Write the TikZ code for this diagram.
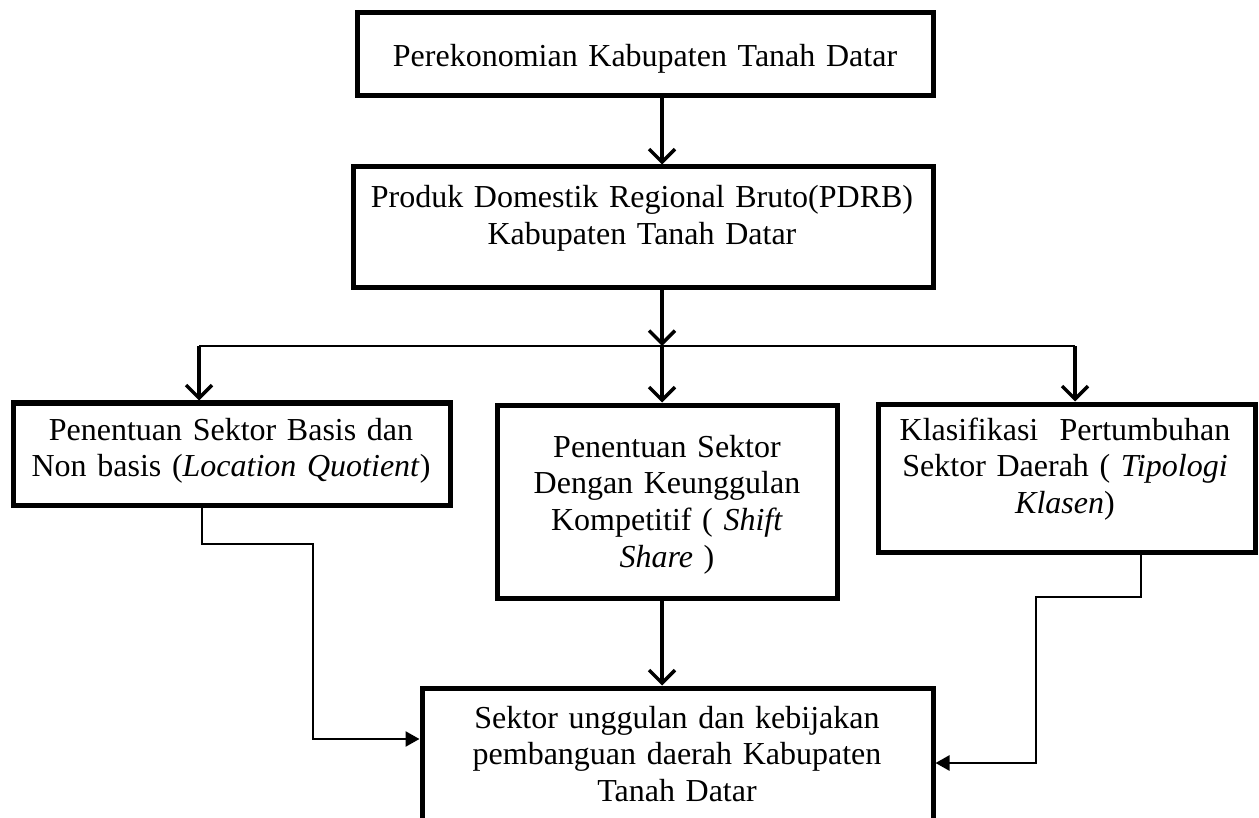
\documentclass[tikz,border=0pt]{standalone}
\usepackage{fontspec}
\setmainfont{Liberation Serif}
\usetikzlibrary{arrows.meta}
\begin{document}
\begin{tikzpicture}[x=1pt,y=-1pt,
  boxst/.style={draw,line width=5pt,rectangle,inner sep=0pt},
  txt/.style={inner sep=0pt,anchor=base,align=center,text width=600pt,
    font=\fontsize{32}{36.8}\selectfont},
  arr/.style={line width=3.5pt,-{Straight Barb[length=13pt,width=26pt,line width=3.5pt]}},
  conn/.style={line width=2.5pt,-{Triangle[length=14pt,width=15pt]}},
  thinline/.style={line width=2pt}]
\useasboundingbox (0,0) rectangle (1259,818);
% boxes
\node[boxst,minimum width=576pt,minimum height=83pt] (b1) at (645,54.5) {};
\node[boxst,minimum width=580pt,minimum height=121pt] (b2) at (643,227.5) {};
\node[boxst,minimum width=437pt,minimum height=102pt] (b3) at (231.5,454) {};
\node[boxst,minimum width=340pt,minimum height=193pt] (b4) at (667,501.5) {};
\node[boxst,minimum width=377pt,minimum height=148pt] (b5) at (1066.5,478) {};
\node[boxst,minimum width=511pt,minimum height=147pt] (b6) at (677.5,761.5) {};
% texts
\node[txt] (t1) at (645,67) {Perekonomian Kabupaten Tanah Datar};
\node[txt] (t2) at (642,208) {Produk Domestik Regional Bruto(PDRB)\\Kabupaten Tanah Datar};
\node[txt] (t3) at (231,440) {Penentuan Sektor Basis dan\\Non basis (\textit{Location Quotient})};
\node[txt] (t4) at (667,457) {Penentuan Sektor\\Dengan Keunggulan\\Kompetitif ( \textit{Shift}\\\textit{Share} )};
\node[txt] (t5) at (1065,440) {Klasifikasi\ \ Pertumbuhan\\Sektor Daerah ( \textit{Tipologi}\\\textit{Klasen})};
\node[txt] (t6) at (677,728) {Sektor unggulan dan kebijakan\\pembanguan daerah Kabupaten\\Tanah Datar};
% junction coordinates
\coordinate (j) at (662,346);
\coordinate (hl) at (199,346);
\coordinate (hr) at (1075,346);
\coordinate (l1) at (202,544);
\coordinate (l2) at (313,739);
\coordinate (r1) at (1141,597);
\coordinate (r2) at (1036,763);
% connectors
\draw[arr] (b1.south -| j) -- (b2.north -| j);
\draw[arr] (b2.south -| j) -- (j);
\draw[thinline] (hl) -- (hr);
\draw[arr] (hl) -- (b3.north -| hl);
\draw[arr] (j) -- (b4.north -| j);
\draw[arr] (hr) -- (b5.north -| hr);
\draw[arr] (b4.south -| j) -- (b6.north -| j);
\draw[conn] (b3.south -| l1) -- (l1) -- (l1 -| l2) -- (l2) -- (l2 -| b6.west);
\draw[conn] (b5.south -| r1) -- (r1) -- (r1 -| r2) -- (r2) -- (r2 -| b6.east);
\end{tikzpicture}
\end{document}
